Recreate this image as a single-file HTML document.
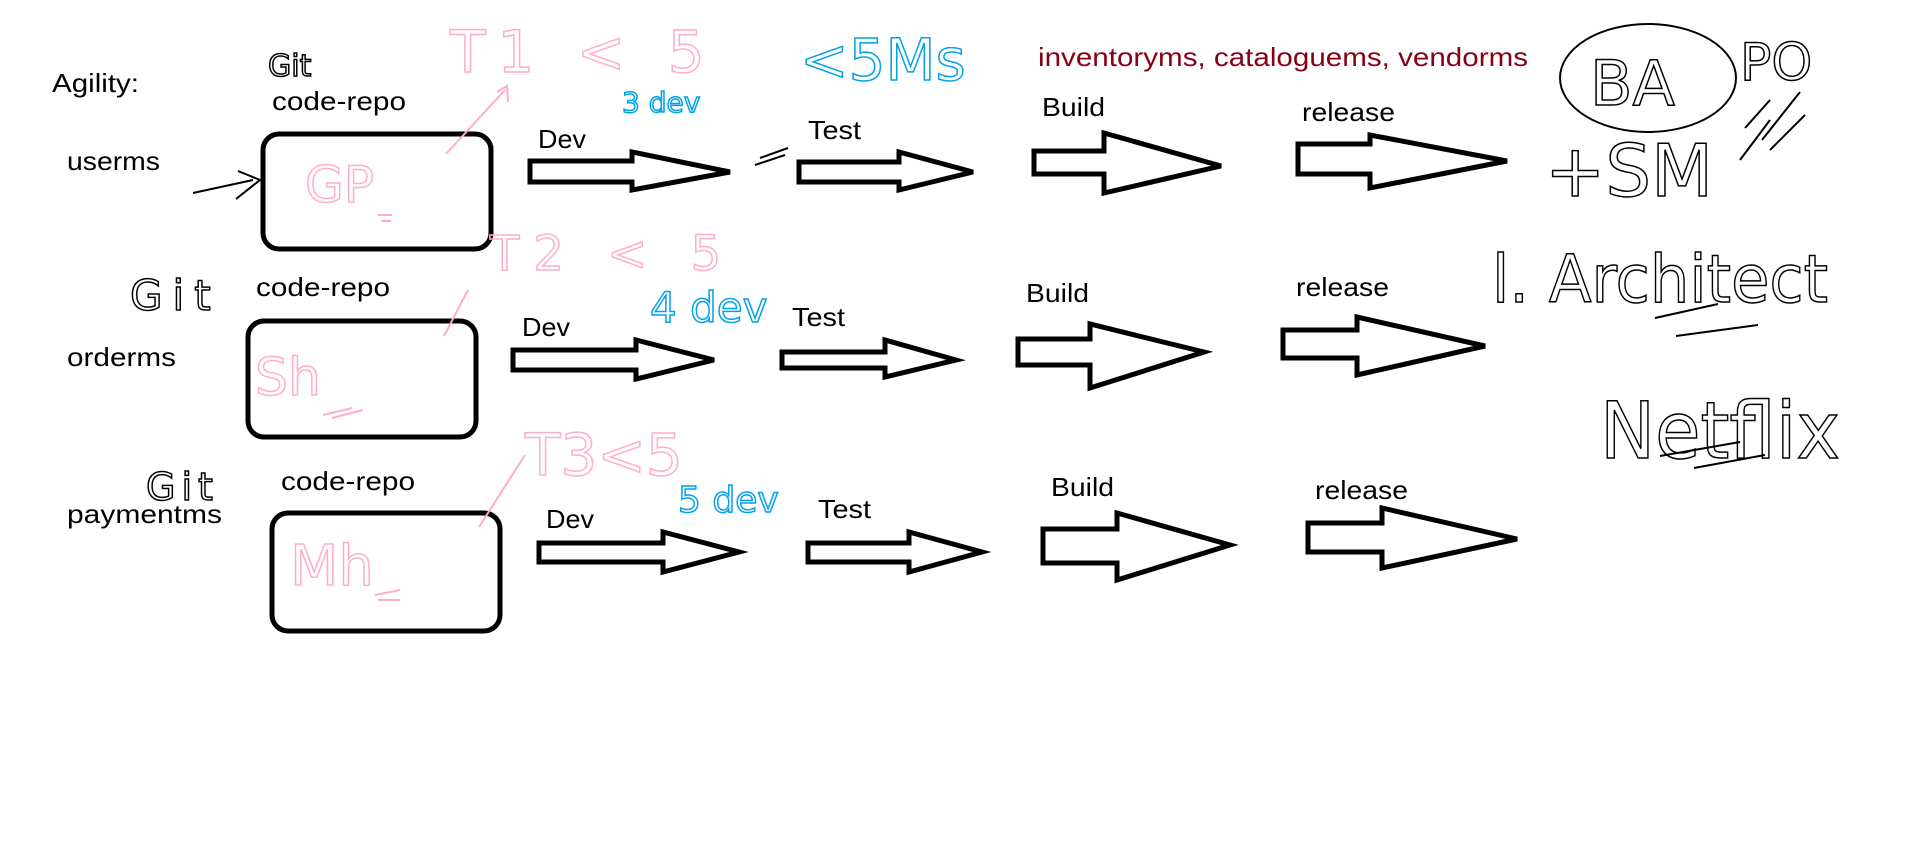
<!DOCTYPE html>
<html><head><meta charset="utf-8"><style>
html,body{margin:0;padding:0;background:#fff;}
svg{display:block;}
.t{font-family:"Liberation Sans",sans-serif;font-size:26px;fill:#000;}
.h{font-family:"DejaVu Sans","Liberation Sans",sans-serif;font-weight:normal;}
</style></head><body>
<svg width="1914" height="867" viewBox="0 0 1914 867" xmlns="http://www.w3.org/2000/svg">
<rect width="1914" height="867" fill="#fff"/>
<g fill="none" stroke="#000" stroke-width="5" stroke-linejoin="miter">
<rect x="263" y="134" width="228" height="115" rx="16"/>
<rect x="248" y="321" width="228" height="116" rx="16"/>
<rect x="272" y="513" width="228" height="118" rx="16"/>
<path d="M530 161H632V152L730 172L632 190V182H530Z"/>
<path d="M799 162H899V152L973 172L899 190V182H799Z"/>
<path d="M1034 151H1104V133L1221 166L1104 193V174H1034Z"/>
<path d="M1298 144H1370V135L1507 161L1370 188V174H1298Z"/>
<path d="M513 350H636V340L714 360L636 379V370H513Z"/>
<path d="M782 352H885V340L956 360L885 377V368H782Z"/>
<path d="M1018 339H1090V324L1204 352L1090 388V365H1018Z"/>
<path d="M1283 330H1357V317L1485 346L1357 375V358H1283Z"/>
<path d="M539 543H663V532L739 552L663 572V562H539Z"/>
<path d="M808 543H909V532L982 552L909 572V562H808Z"/>
<path d="M1043 529H1117V513L1230 545L1117 580V563H1043Z"/>
<path d="M1308 523H1382V508L1517 539L1382 568V552H1308Z"/>
</g>
<text class="t" x="52" y="92" textLength="87" lengthAdjust="spacingAndGlyphs">Agility:</text>
<text class="t" x="272" y="110" textLength="134" lengthAdjust="spacingAndGlyphs">code-repo</text>
<text class="t" x="67" y="170" textLength="93" lengthAdjust="spacingAndGlyphs">userms</text>
<text class="t" x="256" y="296" textLength="134" lengthAdjust="spacingAndGlyphs">code-repo</text>
<text class="t" x="67" y="366" textLength="109" lengthAdjust="spacingAndGlyphs">orderms</text>
<text class="t" x="281" y="490" textLength="134" lengthAdjust="spacingAndGlyphs">code-repo</text>
<text class="t" x="67" y="523" textLength="155" lengthAdjust="spacingAndGlyphs">paymentms</text>
<text class="t" x="538" y="148" textLength="48" lengthAdjust="spacingAndGlyphs">Dev</text>
<text class="t" x="808" y="139" textLength="53" lengthAdjust="spacingAndGlyphs">Test</text>
<text class="t" x="1042" y="116" textLength="63" lengthAdjust="spacingAndGlyphs">Build</text>
<text class="t" x="1302" y="121" textLength="93" lengthAdjust="spacingAndGlyphs">release</text>
<text class="t" x="522" y="336" textLength="48" lengthAdjust="spacingAndGlyphs">Dev</text>
<text class="t" x="792" y="326" textLength="53" lengthAdjust="spacingAndGlyphs">Test</text>
<text class="t" x="1026" y="302" textLength="63" lengthAdjust="spacingAndGlyphs">Build</text>
<text class="t" x="1296" y="296" textLength="93" lengthAdjust="spacingAndGlyphs">release</text>
<text class="t" x="546" y="528" textLength="48" lengthAdjust="spacingAndGlyphs">Dev</text>
<text class="t" x="818" y="518" textLength="53" lengthAdjust="spacingAndGlyphs">Test</text>
<text class="t" x="1051" y="496" textLength="63" lengthAdjust="spacingAndGlyphs">Build</text>
<text class="t" x="1315" y="499" textLength="93" lengthAdjust="spacingAndGlyphs">release</text>
<text class="t" x="1038" y="66" style="fill:#880015" textLength="490" lengthAdjust="spacingAndGlyphs">inventoryms, cataloguems, vendorms</text>
<g class="h" fill="none" stroke-width="1.5">
<text x="268" y="76" font-size="30" stroke="#000" fill="none">Git</text>
<text x="130" y="310" font-size="42" stroke="#000" fill="none" letter-spacing="10">Git</text>
<text x="146" y="500" font-size="38" stroke="#000" fill="none" letter-spacing="6">Git</text>
<text x="450" y="72" font-size="58" stroke="#ffaec9" fill="none" letter-spacing="12">T1 &lt; 5</text>
<text x="490" y="270" font-size="48" stroke="#ffaec9" fill="none" letter-spacing="14">T2 &lt; 5</text>
<text x="525" y="475" font-size="58" stroke="#ffaec9" fill="none">T3&lt;5</text>
<text x="800" y="80" font-size="58" stroke="#00a2e8" fill="none">&lt;5Ms</text>
<text x="622" y="112" font-size="28" stroke="#00a2e8" fill="none">3 dev</text>
<text x="650" y="322" font-size="42" stroke="#00a2e8" fill="none">4 dev</text>
<text x="678" y="512" font-size="36" stroke="#00a2e8" fill="none">5 dev</text>
<text x="305" y="202" font-size="50" stroke="#ffaec9" fill="none">GP</text>
<text x="255" y="395" font-size="52" stroke="#ffaec9" fill="none">Sh</text>
<text x="290" y="585" font-size="56" stroke="#ffaec9" fill="none">Mh</text>
<text x="1590" y="105" font-size="62" stroke="#000" fill="none">BA</text>
<text x="1740" y="80" font-size="52" stroke="#000" fill="none">PO</text>
<text x="1545" y="196" font-size="72" stroke="#000" fill="none">+SM</text>
<text x="1492" y="302" font-size="66" stroke="#000" fill="none" textLength="336" lengthAdjust="spacingAndGlyphs">l. Architect</text>
<text x="1600" y="458" font-size="78" stroke="#000" fill="none" textLength="240" lengthAdjust="spacingAndGlyphs">Netflix</text>
</g>
<g fill="none" stroke-width="2">
<path d="M193 193L253 180M238 171L260 180L236 199" stroke="#000"/>
<path d="M446 154L505 90M497 92L507 86L508 102" stroke="#ffaec9"/>
<path d="M444 336L468 290" stroke="#ffaec9"/>
<path d="M479 527L525 455" stroke="#ffaec9"/>
<path d="M378 215H392M381 221H391M323 415L352 408M332 418L363 410M375 595L400 590M378 600L400 600" stroke="#ffaec9"/>
<ellipse cx="1648" cy="78" rx="88" ry="54" stroke="#000"/>
<path d="M1745 128L1770 100M1762 140L1800 92M1770 150L1805 115M1740 160L1770 120" stroke="#000"/>
<path d="M1655 318L1718 304M1676 336L1758 325M1660 456L1740 442M1694 468L1765 455M760 158L788 148M755 165L785 155" stroke="#000"/>
</g>
</svg>
</body></html>
